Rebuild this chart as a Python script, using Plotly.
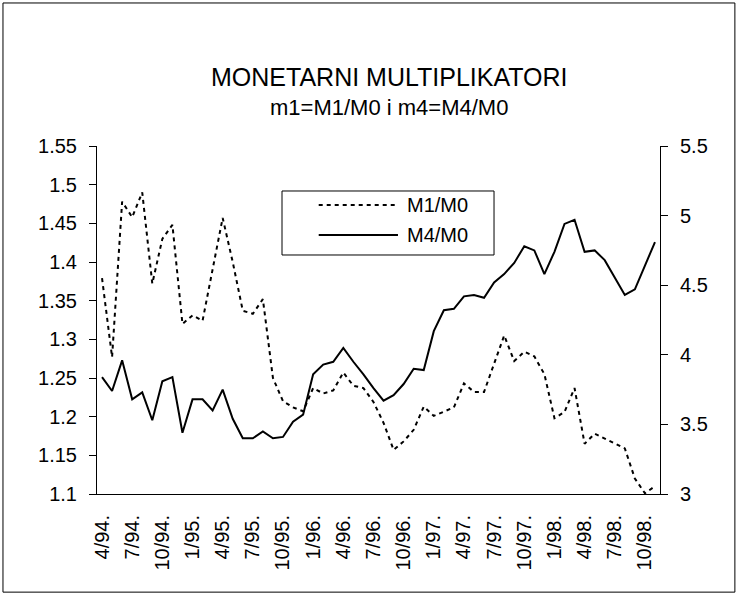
import plotly.graph_objects as go

# mjeseci 4/94 - 11/98
months = [
    "4/94.", "5/94.", "6/94.", "7/94.", "8/94.", "9/94.", "10/94.", "11/94.", "12/94.",
    "1/95.", "2/95.", "3/95.", "4/95.", "5/95.", "6/95.", "7/95.", "8/95.", "9/95.",
    "10/95.", "11/95.", "12/95.", "1/96.", "2/96.", "3/96.", "4/96.", "5/96.", "6/96.",
    "7/96.", "8/96.", "9/96.", "10/96.", "11/96.", "12/96.", "1/97.", "2/97.", "3/97.",
    "4/97.", "5/97.", "6/97.", "7/97.", "8/97.", "9/97.", "10/97.", "11/97.", "12/97.",
    "1/98.", "2/98.", "3/98.", "4/98.", "5/98.", "6/98.", "7/98.", "8/98.", "9/98.",
    "10/98.", "11/98.",
]

m1_m0 = [
    1.379, 1.277, 1.478, 1.458, 1.490, 1.372, 1.430, 1.448, 1.320, 1.331,
    1.324, 1.390, 1.457, 1.400, 1.337, 1.333, 1.352, 1.250, 1.220, 1.212,
    1.207, 1.237, 1.230, 1.234, 1.257, 1.240, 1.237, 1.219, 1.192, 1.157,
    1.168, 1.183, 1.213, 1.201, 1.206, 1.212, 1.243, 1.232, 1.232, 1.268,
    1.305, 1.272, 1.284, 1.278, 1.255, 1.198, 1.206, 1.237, 1.165, 1.178,
    1.172, 1.166, 1.159, 1.120, 1.101, 1.110,
]

m4_m0 = [
    3.84, 3.74, 3.96, 3.68, 3.73, 3.53, 3.81, 3.84, 3.44, 3.68,
    3.68, 3.60, 3.75, 3.54, 3.40, 3.40, 3.45, 3.40, 3.41, 3.52,
    3.57, 3.86, 3.93, 3.95, 4.05, 3.95, 3.86, 3.76, 3.67, 3.71,
    3.79, 3.90, 3.89, 4.17, 4.32, 4.33, 4.42, 4.43, 4.41, 4.52,
    4.58, 4.66, 4.78, 4.75, 4.58, 4.74, 4.94, 4.97, 4.74, 4.75,
    4.68, 4.56, 4.43, 4.47, 4.64, 4.81,
]

FONT = "Arial, Liberation Sans, sans-serif"
idx = list(range(len(months)))
label_pos = idx[::3]
label_txt = months[::3]
bounds = [i - 0.5 for i in range(0, len(months) + 1, 3)]
xr = [-0.5, len(months) - 0.5]

fig = go.Figure()
fig.add_trace(go.Scatter(x=idx, y=m1_m0, name="M1/M0", mode="lines",
                         line=dict(color="black", width=2, dash="4px,4px"),
                         yaxis="y", showlegend=False))
fig.add_trace(go.Scatter(x=idx, y=m4_m0, name="M4/M0", mode="lines",
                         line=dict(color="black", width=2),
                         yaxis="y2", showlegend=False))

fig.update_layout(
    width=738, height=596,
    paper_bgcolor="white", plot_bgcolor="white",
    margin=dict(l=97, r=78, t=146, b=102),
    font=dict(family=FONT, size=20, color="black"),
    xaxis=dict(range=xr, tickvals=label_pos, ticktext=label_txt, tickangle=-90,
               ticks="", showgrid=False, zeroline=False, showline=True,
               linecolor="black", linewidth=1, ticklabelstandoff=12),
    xaxis2=dict(overlaying="x", anchor="y", range=xr, tickvals=bounds,
                ticks="outside", ticklen=6, tickcolor="black",
                showticklabels=False, showgrid=False, zeroline=False, showline=False),
    xaxis3=dict(overlaying="x", anchor="y", range=xr, tickvals=bounds,
                ticks="inside", ticklen=5, tickcolor="black",
                showticklabels=False, showgrid=False, zeroline=False, showline=False),
    yaxis=dict(range=[1.1, 1.55], dtick=0.05, ticks="outside", ticklen=7,
               tickcolor="black", showgrid=False, zeroline=False, showline=True,
               linecolor="black", linewidth=1, ticklabelstandoff=8),
    yaxis2=dict(range=[3, 5.5], dtick=0.5, overlaying="y", side="right",
                ticks="outside", ticklen=7, tickcolor="black", showgrid=False,
                zeroline=False, showline=True, linecolor="black", linewidth=1,
                ticklabelstandoff=8),
    yaxis3=dict(range=[1.1, 1.55], dtick=0.05, overlaying="y", side="left",
                anchor="x", ticks="inside", ticklen=5, tickcolor="black",
                showticklabels=False, showgrid=False, zeroline=False, showline=False),
    yaxis4=dict(range=[3, 5.5], dtick=0.5, overlaying="y", side="right",
                anchor="x", ticks="inside", ticklen=5, tickcolor="black",
                showticklabels=False, showgrid=False, zeroline=False, showline=False),
)

# naslov (dva retka, prvi veći)
fig.add_annotation(text="MONETARNI MULTIPLIKATORI",
                   xref="paper", yref="paper", x=0.5195, y=1.198,
                   xanchor="center", yanchor="middle", showarrow=False,
                   font=dict(size=25))
fig.add_annotation(text="m1=M1/M0 i m4=M4/M0",
                   xref="paper", yref="paper", x=0.5195, y=1.112,
                   xanchor="center", yanchor="middle", showarrow=False,
                   font=dict(size=22))

# legenda (ručno, kao u Excelu)
fig.add_shape(type="rect", xref="paper", yref="paper",
              x0=0.3286, x1=0.7052, y0=0.6868, y1=0.8707,
              line=dict(color="black", width=1), fillcolor="white")
fig.add_shape(type="line", xref="paper", yref="paper",
              x0=0.3938, x1=0.5346, y0=0.8305, y1=0.8305,
              line=dict(color="black", width=2, dash="4px,4px"))
fig.add_shape(type="line", xref="paper", yref="paper",
              x0=0.3938, x1=0.5346, y0=0.7443, y1=0.7443,
              line=dict(color="black", width=2))
fig.add_annotation(text="M1/M0", xref="paper", yref="paper", x=0.547, y=0.8305,
                   xanchor="left", yanchor="middle", showarrow=False)
fig.add_annotation(text="M4/M0", xref="paper", yref="paper", x=0.547, y=0.7443,
                   xanchor="left", yanchor="middle", showarrow=False)

# okvir grafikona
fig.add_shape(type="rect", xref="paper", yref="paper",
              x0=-0.167, x1=1.133, y0=-0.282, y1=1.411,
              line=dict(color="black", width=1))

fig.write_html("out.html", config={"displayModeBar": False},
               post_script="document.body.style.margin='0';")
